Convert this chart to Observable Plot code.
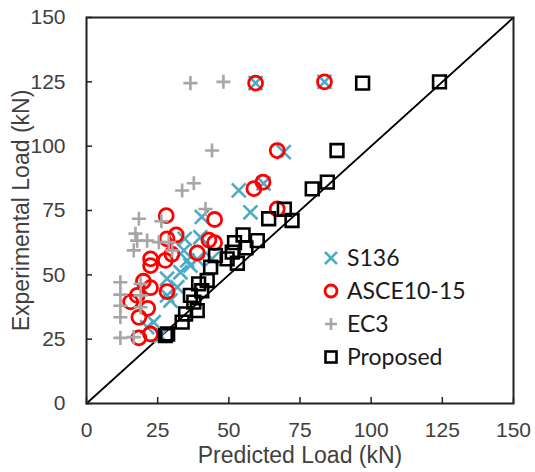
<!DOCTYPE html>
<html><head><meta charset="utf-8">
<script src="https://cdn.jsdelivr.net/npm/d3@7"></script>
<script src="https://cdn.jsdelivr.net/npm/@observablehq/plot@0.6"></script>
<style>
body{margin:0;background:#fff;}
#chart{position:relative;width:535px;height:472px;}
#legend{position:absolute;left:0;top:0;pointer-events:none;}
</style></head><body><div id="chart"></div>
<script>
const seriesNames = ["S136", "ASCE10-15", "EC3", "Proposed"];
const seriesColors = ["#4bacc6", "#ff0000", "#a6a6a6", "#000000"];
const xTicks = [0, 25, 50, 75, 100, 125, 150];
const yTicks = [0, 25, 50, 75, 100, 125, 150];
const diagonal = [0, 150];

// [predicted, experimental]
const s136 = [
  [59.4,124.5],[83.6,125],[69.3,97.7],[62.2,85.5],[53.5,82.8],[57.6,74.3],
  [40.5,72.5],[40,64.6],[34.5,64],[34.2,59.5],[35.4,55.6],[38.9,56],[44.1,56.2],
  [36.5,53.6],[33,51],[28.3,48.5],[31.9,45.2],[28.3,42],[29.5,40],[23.6,31.6],
  [21.3,29.7],[26,26.4]
];
const asce = [
  [59.4,124.5],[83.6,125],[67,98.3],[62,86],[58.8,83.5],[67,75.6],[45,71.5],
  [28,73],[31.5,65.5],[43,63.5],[45,62.5],[28.3,64],[30,58],[38.9,58.5],
  [22.5,56.2],[27.7,55.6],[22.5,53.6],[20,47.5],[22.5,45],[17.8,42],[15.5,39.5],
  [21.5,37],[18.4,33.5],[22.5,27],[18.4,25.5],[28.3,43.5]
];
const ec3 = [
  [36.5,124.5],[48.1,125],[44.1,98.3],[33.6,82.8],[37.7,85.6],[18.4,71.8],
  [41.8,75.6],[26.3,70.8],[17.2,66],[17.8,63.3],[21.3,63.3],[25.4,62.7],
  [28.9,62.7],[16.6,59.5],[30.1,59.5],[11.9,47.1],[19,46.5],[11.9,42.3],
  [19,42],[11.9,38],[19,37.4],[11.9,33.5],[11.9,25.5],[16.6,25.8]
];
const proposed = [
  [124,125],[97,124.5],[88,98.3],[84.6,86],[79.3,83.4],[69.5,75.5],[72.2,71.1],
  [64,71.8],[55,65.5],[60,63.3],[52,62.5],[51.2,58.8],[56,60.5],[45.3,57.5],
  [49.4,56.2],[53,54.5],[43.6,53],[42.4,47.8],[39.4,46.5],[40.5,43.8],[36.5,42],
  [37.7,39.4],[34.8,34.8],[33.6,31.6],[38.9,36.1],[27.7,26.4],[28.5,27]
];

const W = 535, H = 472;
const axisFont = "'Liberation Sans', Arial, sans-serif";

const chart = Plot.plot({
  width: W, height: H,
  marginLeft: 86, marginRight: 22, marginTop: 17, marginBottom: 69,
  style: {fontFamily: axisFont, fontSize: "21px", color: "#404040", background: "#fff", overflow: "visible"},
  x: {domain: [0, 150]},
  y: {domain: [0, 150]},
  marks: [
    Plot.line(diagonal, {x: d => d, y: d => d, stroke: "black", strokeWidth: 1.8}),
    Plot.dot(s136, {x: d => d[0], y: d => d[1], symbol: "times", r: 6.4, stroke: seriesColors[0], strokeWidth: 2.6, fill: "none"}),
    Plot.dot(asce, {x: d => d[0], y: d => d[1], symbol: "circle", r: 7, stroke: seriesColors[1], strokeWidth: 2.8, fill: "none"}),
    Plot.dot(ec3, {x: d => d[0], y: d => d[1], symbol: "plus", r: 4.6, stroke: seriesColors[2], strokeWidth: 2.6, fill: "none"}),
    Plot.dot(proposed, {x: d => d[0], y: d => d[1], symbol: "square", r: 7.2, stroke: seriesColors[3], strokeWidth: 2.6, fill: "none"}),
    Plot.frame({stroke: "#222", strokeWidth: 2}),
    Plot.axisX({ticks: xTicks, tickSize: -6, tickPadding: 25, stroke: "#222", strokeWidth: 1.5,
      fontFamily: axisFont, fontSize: 21, fill: "#404040", label: null}),
    Plot.axisY({ticks: yTicks, tickSize: -6, tickPadding: 27, stroke: "#222", strokeWidth: 1.5,
      fontFamily: axisFont, fontSize: 21, fill: "#404040", label: null}),
    Plot.axisX({ticks: [], label: "Predicted Load (kN)", labelAnchor: "center", labelOffset: 59,
      labelArrow: "none", fontFamily: axisFont, fontSize: 23, fill: "#404040"}),
    Plot.axisY({ticks: [], label: "Experimental Load (kN)", labelAnchor: "center", labelOffset: 74,
      labelArrow: "none", fontFamily: axisFont, fontSize: 23, fill: "#404040"})
  ]
});
document.getElementById("chart").appendChild(chart);

// Legend overlay
const legendRows = [258, 291, 324, 357];
const symX = 331, textX = 347;
const svg = d3.select("#chart").append("svg")
  .attr("id", "legend").attr("width", W).attr("height", H);
seriesNames.forEach((name, i) => {
  const g = svg.append("g").attr("transform", `translate(${symX},${legendRows[i]})`);
  const c = seriesColors[i];
  if (i === 0) {
    g.append("path").attr("d", "M-6,-6L6,6M-6,6L6,-6").attr("stroke", c).attr("stroke-width", 2.6).attr("fill", "none");
  } else if (i === 1) {
    g.append("circle").attr("r", 6).attr("stroke", c).attr("stroke-width", 2.8).attr("fill", "none");
  } else if (i === 2) {
    g.append("path").attr("d", "M-6,0L6,0M0,-6L0,6").attr("stroke", c).attr("stroke-width", 2.6).attr("fill", "none");
  } else {
    g.append("rect").attr("x", -5.5).attr("y", -5.5).attr("width", 11).attr("height", 11).attr("stroke", c).attr("stroke-width", 2.6).attr("fill", "none");
  }
  svg.append("text").attr("x", textX).attr("y", legendRows[i]).attr("dy", "0.36em")
    .attr("font-family", "Lato, 'Open Sans', sans-serif").attr("font-size", 23).attr("fill", "#1a1a1a")
    .text(name);
});
</script>
</body></html>
